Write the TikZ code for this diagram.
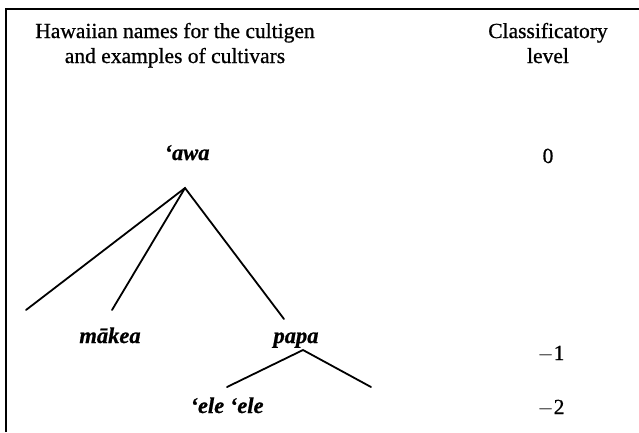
\documentclass[tikz,border=0pt]{standalone}
\usepackage{fontspec}
\setmainfont{Liberation Serif}[FakeBold=0.8]
\begin{document}
\begin{tikzpicture}[x=1pt,y=-1pt,
  lbl/.style={font=\fontsize{21.5}{26}\selectfont, anchor=base, inner sep=0pt},
  term/.style={font=\fontsize{22.5}{27}\selectfont\bfseries\itshape, anchor=base, inner sep=0pt},
  branch/.style={line width=1.8pt, line cap=round}]
  \useasboundingbox (0,0) rectangle (639,432);
  % frame (top and left edges)
  \draw[line width=2pt] (6,432) -- (6,9) -- (639,9);
  % column headings
  \node[lbl] (h1a) at (175,38) {Hawaiian names for the cultigen};
  \node[lbl] (h1b) at (175,63) {and examples of cultivars};
  \node[lbl] (h2a) at (548,38) {Classificatory};
  \node[lbl] (h2b) at (548,63) {level};
  % terms
  \node[term] (awa) at (187,160) {‘awa};
  \node[term] (makea) at (110,343) {mākea};
  \node[term] (papa) at (296,343) {papa};
  \node[term] (ele) at (227,413) {‘ele ‘ele};
  % levels
  \node[lbl] (l0) at (548,163) {0};
  \node[lbl] (l1) at (551,360) {$-$1};
  \node[lbl] (l2) at (551,414) {$-$2};
  % branch points
  \coordinate (awaroot) at (185,188);
  \coordinate (b1) at (26,310);
  \coordinate (b2) at (112,310);
  \coordinate (b3) at (284,319);
  \coordinate (paparoot) at (303,350);
  \coordinate (c1) at (227,387);
  \coordinate (c2) at (371,387);
  \draw[branch] (b1) -- (awaroot) -- (b3);
  \draw[branch] (awaroot) -- (b2);
  \draw[branch] (c1) -- (paparoot) -- (c2);
\end{tikzpicture}
\end{document}
